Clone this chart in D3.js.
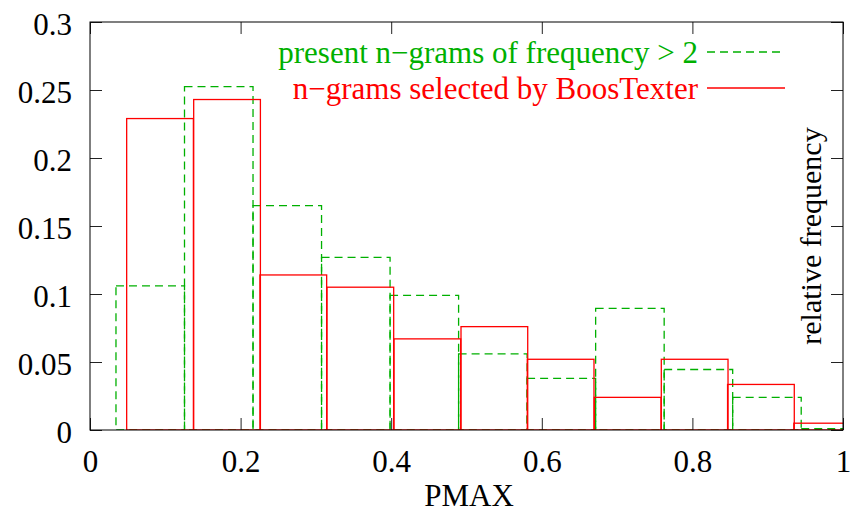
<!DOCTYPE html>
<html>
<head>
<meta charset="utf-8">
<script src="https://d3js.org/d3.v7.min.js"></script>
<style>
    body { margin: 0; background: #fff; }
    svg { display: block; }
    svg text { font-family: "Liberation Serif", "Times New Roman", Times, "DejaVu Serif", serif; font-size: 31px; }
    .axis text { fill: #000; }
    .axis line { stroke: #222; }
</style>
</head>
<body>
<svg id="chart"></svg>
<script>
// bin centres (PMAX) and relative frequencies
const greenCenters = [0.080, 0.171, 0.262, 0.353, 0.444, 0.535, 0.626, 0.717, 0.808, 0.899, 0.990];
const greenValues  = [0.106, 0.2525, 0.165, 0.127, 0.099, 0.056, 0.038, 0.0895, 0.0445, 0.024, 0.001];
const redCenters   = [0.093, 0.182, 0.270, 0.359, 0.448, 0.537, 0.625, 0.714, 0.803, 0.891, 0.979];
const redValues    = [0.229, 0.243, 0.114, 0.105, 0.067, 0.076, 0.052, 0.024, 0.052, 0.0335, 0.005];
const greenWidth = 0.091, redWidth = 0.0886;

const xTicks = [0, 0.2, 0.4, 0.6, 0.8, 1];
const yTicks = [0, 0.05, 0.1, 0.15, 0.2, 0.25, 0.3];

const seriesNames = ["present n\u2212grams of frequency > 2", "n\u2212grams selected by BoosTexter"];

const width = 851, height = 514;
const margin = { top: 22, right: 8, bottom: 84, left: 90 };
const green = "#00b000", red = "#ff0000";

const svg = d3.select("#chart").attr("width", width).attr("height", height);

const x = d3.scaleLinear().domain([0, 1]).range([margin.left, width - margin.right]);
const y = d3.scaleLinear().domain([0, 0.3]).range([height - margin.bottom, margin.top]);

svg.append("clipPath").attr("id", "plot")
    .append("rect")
    .attr("x", x(0)).attr("y", y(0.3))
    .attr("width", x(1) - x(0)).attr("height", y(0) - y(0.3));

const bars = svg.append("g").attr("clip-path", "url(#plot)");

function drawBars(centers, values, w, color, dash) {
    bars.append("g")
        .selectAll("rect")
        .data(centers.map((c, i) => ({ c, v: values[i] })))
        .join("rect")
        .attr("x", d => x(d.c - w / 2))
        .attr("width", d => x(d.c + w / 2) - x(d.c - w / 2))
        .attr("y", d => y(d.v))
        .attr("height", d => y(0) - y(d.v))
        .attr("fill", "none")
        .attr("stroke", color)
        .attr("stroke-width", 1.3)
        .attr("stroke-dasharray", dash);
}
drawBars(greenCenters, greenValues, greenWidth, green, "8,5");
drawBars(redCenters, redValues, redWidth, red, null);

// axes with inward ticks on all four sides
const xb = svg.append("g").attr("class", "axis")
    .attr("transform", `translate(0,${y(0)})`)
    .call(d3.axisBottom(x).tickValues(xTicks).tickFormat(d3.format("")).tickSize(-12).tickSizeOuter(0).tickPadding(20));
xb.select(".domain").remove();

const yl = svg.append("g").attr("class", "axis")
    .attr("transform", `translate(${x(0)},0)`)
    .call(d3.axisLeft(y).tickValues(yTicks).tickFormat(d3.format("")).tickSize(-12).tickSizeOuter(0).tickPadding(18));
yl.select(".domain").remove();
yl.selectAll("text").attr("dy", "0.4em");

const xt = svg.append("g").attr("class", "axis")
    .attr("transform", `translate(0,${y(0.3)})`)
    .call(d3.axisTop(x).tickValues(xTicks).tickFormat("").tickSize(-12).tickSizeOuter(0));
xt.select(".domain").remove();

const yr = svg.append("g").attr("class", "axis")
    .attr("transform", `translate(${x(1)},0)`)
    .call(d3.axisRight(y).tickValues(yTicks).tickFormat("").tickSize(-12).tickSizeOuter(0));
yr.select(".domain").remove();

svg.selectAll(".axis").attr("font-family", null).attr("font-size", null);

svg.append("rect")
    .attr("x", x(0)).attr("y", y(0.3))
    .attr("width", x(1) - x(0)).attr("height", y(0) - y(0.3))
    .attr("fill", "none").attr("stroke", "#000").attr("stroke-width", 1);

// axis labels
svg.append("text")
    .attr("x", 469).attr("y", 506)
    .attr("text-anchor", "middle")
    .text("PMAX");

svg.append("text")
    .attr("transform", "translate(821,236) rotate(-90)")
    .attr("text-anchor", "middle")
    .style("font-size", "30px")
    .text("relative frequency");

// key
const key = svg.append("g");
[[seriesNames[0], green, "8,5"], [seriesNames[1], red, null]].forEach(([label, color, dash], i) => {
    const by = 63 + i * 36;
    key.append("text")
        .attr("x", 698).attr("y", by)
        .attr("text-anchor", "end")
        .attr("fill", color)
        .text(label);
    key.append("line")
        .attr("x1", 707).attr("x2", 785)
        .attr("y1", by - 11).attr("y2", by - 11)
        .attr("stroke", color).attr("stroke-width", 1.3)
        .attr("stroke-dasharray", dash);
});
</script>
</body>
</html>
